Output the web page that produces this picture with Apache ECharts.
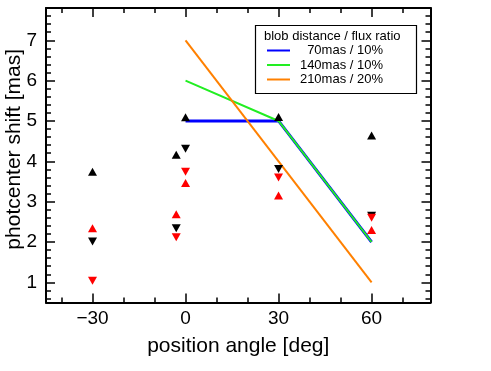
<!DOCTYPE html>
<html>
<head>
<meta charset="utf-8">
<script src="https://cdn.jsdelivr.net/npm/echarts@6/dist/echarts.min.js"></script>
<style>
  html, body { margin: 0; padding: 0; background: #fff; }
  #chart { width: 491px; height: 371px; }
</style>
</head>
<body>
<div id="chart"></div>
<script>
const FONT = '"Liberation Sans", Arial, Helvetica, sans-serif'

// model lines: blob distance / flux ratio
const lineNames = ['70mas / 10%', '140mas / 10%', '210mas / 20%']
const lineColors = ['#0000ff', '#22ee22', '#ff8000']
const lineWidths = [3, 2, 2]
const line70 = [[0, 5], [30, 5], [60, 2]]
const line140 = [[0, 6], [30, 5], [60, 2]]
const line210 = [[0, 7], [60, 1]]

// measured photocenter shifts
const blackUp = [[-30, 3.74], [-3, 4.16], [0, 5.09], [30, 5.10], [60, 4.64]]
const blackDown = [[-30, 2.01], [-3, 2.34], [0, 4.31], [30, 3.81], [60, 2.65]]
const redUp = [[-30, 2.34], [-3, 2.69], [0, 3.46], [30, 3.15], [60, 2.30]]
const redDown = [[-30, 1.04], [-3, 2.12], [0, 3.74], [30, 3.60], [60, 2.60]]

const xRange = [-45, 79]
const yRange = [0.5, 7.8]

const chart = echarts.init(document.getElementById('chart'))

const frame = { show: true, onZero: false, lineStyle: { color: '#000', width: 2 } }
const noLine = { show: false, onZero: false }

function xAx(pos, major, labels, extra) {
  return Object.assign({
    type: 'value', position: pos, min: xRange[0], max: xRange[1],
    minInterval: major ? 30 : 10, maxInterval: major ? 30 : 10,
    axisLine: major ? frame : noLine,
    axisTick: { show: true, inside: true, length: major ? 9 : 5, lineStyle: { color: '#000', width: 1.5 } },
    axisLabel: labels ? {
      show: true, color: '#000', fontSize: 19, fontFamily: FONT, margin: 7,
      showMinLabel: false, showMaxLabel: false,
      formatter: v => v < 0 ? '\u2212' + (-v) : String(v),
    } : { show: false },
    splitLine: { show: false },
  }, extra || {})
}

function yAx(pos, major, labels, extra) {
  return Object.assign({
    type: 'value', position: pos, min: yRange[0], max: yRange[1],
    minInterval: major ? 1 : 0.2, maxInterval: major ? 1 : 0.2,
    axisLine: major ? frame : noLine,
    axisTick: { show: true, inside: true, length: major ? 9 : 5, lineStyle: { color: '#000', width: 1.5 } },
    axisLabel: labels ? {
      show: true, color: '#000', fontSize: 19, fontFamily: FONT, margin: 9,
      showMinLabel: false, showMaxLabel: false,
    } : { show: false },
    splitLine: { show: false },
  }, extra || {})
}

function tri(name, data, color, down) {
  return {
    name, type: 'scatter', data, z: 5,
    symbol: 'triangle', symbolSize: [9, 8], symbolRotate: down ? 180 : 0,
    itemStyle: { color, opacity: 1 },
    xAxisIndex: 0, yAxisIndex: 0,
  }
}

const lineData = [line70, line140, line210]

chart.setOption({
  animation: false,
  textStyle: { fontFamily: FONT },
  grid: { left: 46, top: 8, width: 384.5, height: 294.5, containLabel: false, outerBoundsMode: 'none' },
  xAxis: [
    xAx('bottom', true, true, {
      name: 'position angle [deg]', nameLocation: 'middle', nameGap: 33, nameMoveOverlap: false,
      nameTextStyle: { color: '#000', fontSize: 21, fontFamily: FONT },
    }),
    xAx('bottom', false, false),
    xAx('top', true, false),
    xAx('top', false, false),
  ],
  yAxis: [
    yAx('left', true, true, {
      name: 'photcenter shift [mas]', nameLocation: 'middle', nameGap: 21, nameMoveOverlap: false,
      nameTextStyle: { color: '#000', fontSize: 21, fontFamily: FONT, padding: [0, 0, 0, 12] },
    }),
    yAx('left', false, false),
    yAx('right', true, false),
    yAx('right', false, false),
  ],
  legend: {
    data: lineNames,
    orient: 'vertical',
    left: 266, top: 44,
    padding: 0,
    itemWidth: 23, itemHeight: 10, itemGap: 1.5,
    selectedMode: false,
    itemStyle: { opacity: 0 },
    formatter: name => '{a|' + name + '}',
    textStyle: {
      color: '#000', fontSize: 13, fontFamily: FONT,
      rich: { a: { width: 88, align: 'right', fontSize: 13, fontFamily: FONT, color: '#000' } },
    },
  },
  graphic: [
    {
      type: 'rect', left: 253, top: 23, z: 10,
      shape: { width: 161, height: 68 },
      style: { fill: 'none', stroke: '#000', lineWidth: 1.2 },
    },
    {
      type: 'text', left: 264, top: 30, z: 10,
      style: { text: 'blob distance / flux ratio', fontSize: 13, fontFamily: FONT, fill: '#000' },
    },
  ],
  series: [
    ...lineNames.map((name, i) => ({
      name, type: 'line', data: lineData[i], symbol: 'none', z: 3 + i * 0.1,
      lineStyle: { color: lineColors[i], width: lineWidths[i] },
      itemStyle: { color: lineColors[i] },
    })),
    tri('black up', blackUp, '#000', false),
    tri('black down', blackDown, '#000', true),
    tri('red up', redUp, '#ff0000', false),
    tri('red down', redDown, '#ff0000', true),
  ],
})
</script>
</body>
</html>
